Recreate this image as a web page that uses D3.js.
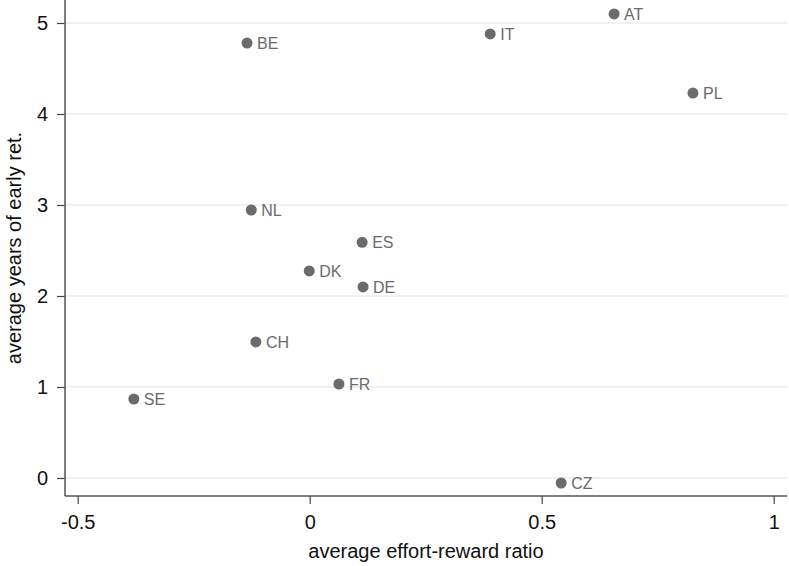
<!DOCTYPE html>
<html><head><meta charset="utf-8">
<script src="https://cdn.jsdelivr.net/npm/d3@7"></script>
<style>body{margin:0;background:#fff}svg{display:block}</style>
</head><body>
<svg id="c" width="789" height="566"></svg>
<script>
const countries = ["AT","IT","BE","PL","NL","ES","DK","DE","CH","FR","SE","CZ"];
const effortReward = [0.656,0.389,-0.135,0.826,-0.126,0.113,-0.001,0.115,-0.116,0.063,-0.379,0.542];
const earlyRetYears = [5.10,4.88,4.78,4.23,2.945,2.59,2.275,2.10,1.495,1.033,0.868,-0.055];
const xTicks = [-0.5,0,0.5,1];
const yTicks = [0,1,2,3,4,5];
const xTickLabels = ["-0.5","0","0.5","1"];
const yTickLabels = ["0","1","2","3","4","5"];

const svg = d3.select("#c");
const L=65,R=787,T=0,B=496;
const x = d3.scaleLinear().domain([-0.5,1]).range([77.7,773.7]);
const y = d3.scaleLinear().domain([0,5]).range([478,23]);
const font = "Arial, 'Liberation Sans', Helvetica, sans-serif";

// gridlines
svg.append("g").selectAll("line").data(yTicks).join("line")
  .attr("x1",L).attr("x2",R).attr("y1",d=>y(d)).attr("y2",d=>y(d))
  .attr("stroke","#ebebeb").attr("stroke-width",1.5);

// axes
const xa = svg.append("g").attr("transform",`translate(0,${B})`)
  .call(d3.axisBottom(x).tickValues(xTicks).tickSize(8).tickPadding(11)
    .tickFormat((d,i)=>xTickLabels[i]));
const ya = svg.append("g").attr("transform",`translate(${L},0)`)
  .call(d3.axisLeft(y).tickValues(yTicks).tickSize(8).tickPadding(9)
    .tickFormat((d,i)=>yTickLabels[i]));
[xa,ya].forEach(a=>{
  a.select(".domain").remove();
  a.selectAll(".tick line").attr("stroke","#444").attr("stroke-width",1.2);
  a.selectAll(".tick text").attr("font-family",font).attr("font-size",20).attr("fill","#111");
});
svg.append("line").attr("x1",L).attr("x2",L).attr("y1",T).attr("y2",B).attr("stroke","#555").attr("stroke-width",1.5);
svg.append("line").attr("x1",L).attr("x2",R).attr("y1",B).attr("y2",B).attr("stroke","#555").attr("stroke-width",1.5);

// titles
svg.append("text").attr("x",(L+R)/2).attr("y",558).attr("text-anchor","middle")
  .attr("font-family",font).attr("font-size",20).attr("fill","#111").text("average effort-reward ratio");
svg.append("text").attr("transform",`translate(21,${(T+B)/2}) rotate(-90)`).attr("text-anchor","middle")
  .attr("font-family",font).attr("font-size",20).attr("fill","#111").text("average years of early ret.");

// points
const data = countries.map((c,i)=>({c, x:effortReward[i], y:earlyRetYears[i]}));
const g = svg.append("g");
g.selectAll("circle").data(data).join("circle")
  .attr("cx",d=>x(d.x)).attr("cy",d=>y(d.y)).attr("r",5.5).attr("fill","#6b6b6b");
g.selectAll("text").data(data).join("text")
  .attr("x",d=>x(d.x)+10).attr("y",d=>y(d.y)).attr("dy","0.36em")
  .attr("font-family",font).attr("font-size",16).attr("fill","#6b6b6b").text(d=>d.c);
</script>
</body></html>
